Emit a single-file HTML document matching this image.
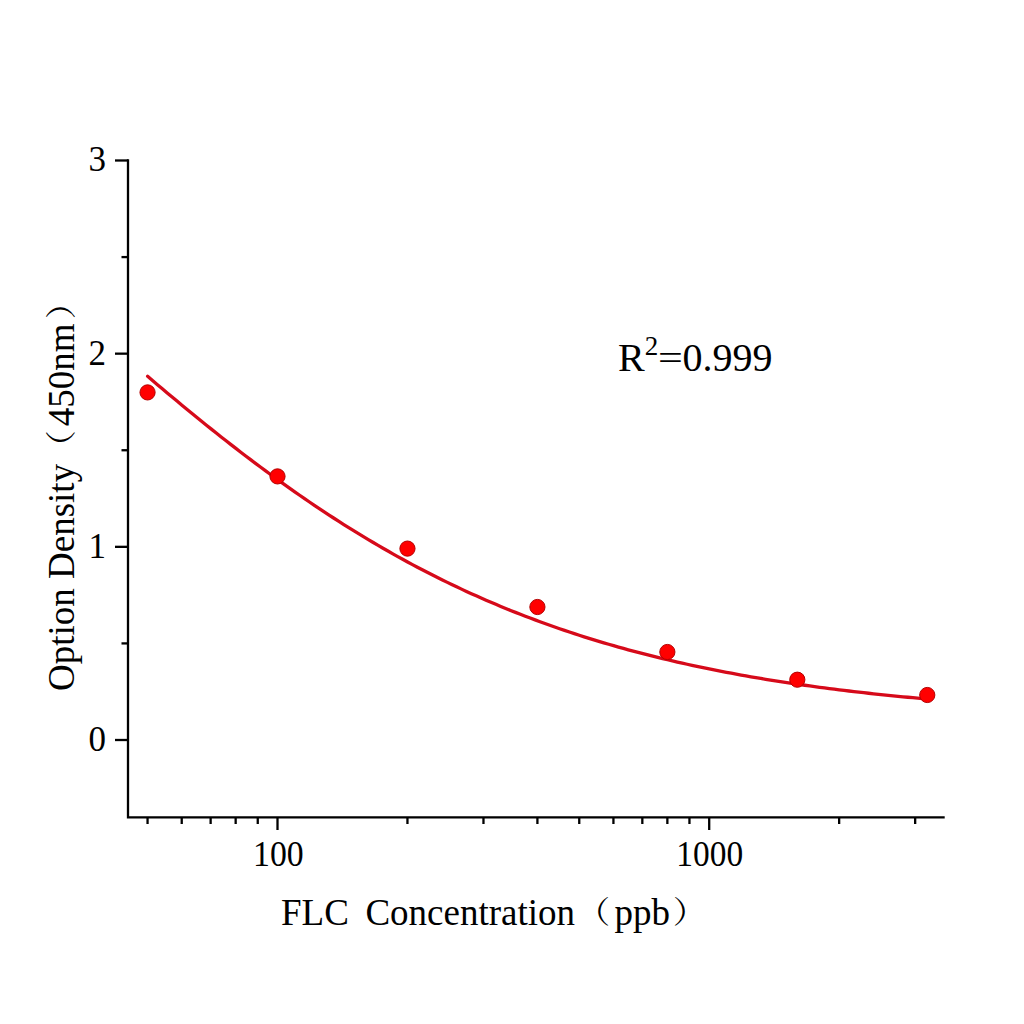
<!DOCTYPE html>
<html><head><meta charset="utf-8"><style>
html,body{margin:0;padding:0;background:#fff;}
svg{display:block;}
text{font-family:"Liberation Serif","Noto Serif CJK SC",serif;fill:#000;}
.cjk{font-family:"NanumMyeongjo","Noto Serif CJK SC",serif;font-size:31.5px;}
</style></head><body>
<svg width="1024" height="1024" viewBox="0 0 1024 1024">
<rect width="1024" height="1024" fill="#fff"/>
<g stroke="#000" stroke-width="2.3" fill="none">
<path d="M128,159.35 V817.4 H944.7" stroke-linejoin="miter" stroke-linecap="butt"/>
<line x1="115" y1="740.00" x2="128" y2="740.00"/>
<line x1="115" y1="546.83" x2="128" y2="546.83"/>
<line x1="115" y1="353.66" x2="128" y2="353.66"/>
<line x1="115" y1="160.49" x2="128" y2="160.49"/>
<line x1="121.5" y1="643.41" x2="128" y2="643.41"/>
<line x1="121.5" y1="450.25" x2="128" y2="450.25"/>
<line x1="121.5" y1="257.08" x2="128" y2="257.08"/>
<line x1="277.50" y1="817.4" x2="277.50" y2="830"/>
<line x1="709.20" y1="817.4" x2="709.20" y2="830"/>
<line x1="147.55" y1="817.4" x2="147.55" y2="824"/>
<line x1="181.73" y1="817.4" x2="181.73" y2="824"/>
<line x1="210.63" y1="817.4" x2="210.63" y2="824"/>
<line x1="235.66" y1="817.4" x2="235.66" y2="824"/>
<line x1="257.75" y1="817.4" x2="257.75" y2="824"/>
<line x1="407.45" y1="817.4" x2="407.45" y2="824"/>
<line x1="483.47" y1="817.4" x2="483.47" y2="824"/>
<line x1="537.41" y1="817.4" x2="537.41" y2="824"/>
<line x1="579.25" y1="817.4" x2="579.25" y2="824"/>
<line x1="613.43" y1="817.4" x2="613.43" y2="824"/>
<line x1="642.33" y1="817.4" x2="642.33" y2="824"/>
<line x1="667.36" y1="817.4" x2="667.36" y2="824"/>
<line x1="689.45" y1="817.4" x2="689.45" y2="824"/>
<line x1="839.15" y1="817.4" x2="839.15" y2="824"/>
<line x1="915.17" y1="817.4" x2="915.17" y2="824"/>
</g>
<g font-size="35">
<text x="106" y="750.8" text-anchor="end">0</text>
<text x="106" y="557.6" text-anchor="end">1</text>
<text x="106" y="364.5" text-anchor="end">2</text>
<text x="106" y="171.3" text-anchor="end">3</text>
<text transform="translate(278.4,865.5) scale(0.965,1)" text-anchor="middle">100</text>
<text transform="translate(709.7,865.5) scale(0.955,1)" text-anchor="middle">1000</text>
</g>
<text y="924.7" font-size="37"><tspan x="281">FLC</tspan><tspan x="365.4">Concentration</tspan><tspan x="614.6">ppb</tspan></text>
<text class="cjk" transform="translate(573.5,922.55) scale(1.25,1)">（</text>
<text class="cjk" transform="translate(672.2,922.55) scale(1.25,1)">）</text>
<g transform="translate(74,691) rotate(-90)">
<text x="0" y="0" font-size="37">Option Density</text>
<text class="cjk" transform="translate(224.3,-2.15) scale(1.25,1)">（</text>
<text x="264.8" y="0" font-size="37">450nm</text>
<text class="cjk" transform="translate(371.2,-2.15) scale(1.25,1)">）</text>
</g>
<text y="371.1" font-size="40"><tspan x="618">R</tspan><tspan x="644.7" y="354.5" font-size="27">2</tspan><tspan x="682.4" y="371.1">0.999</tspan></text>
<text transform="translate(658,369.6) scale(1,0.8)" font-size="44">=</text>
<path d="M147.60,376.31 L152.51,380.49 L157.41,384.64 L162.32,388.79 L167.22,392.91 L172.13,397.02 L177.03,401.10 L181.94,405.17 L186.84,409.22 L191.75,413.24 L196.65,417.25 L201.56,421.23 L206.46,425.19 L211.37,429.12 L216.27,433.03 L221.18,436.92 L226.08,440.78 L230.99,444.61 L235.89,448.42 L240.80,452.20 L245.70,455.95 L250.61,459.67 L255.51,463.36 L260.42,467.03 L265.32,470.66 L270.23,474.27 L275.13,477.85 L280.04,481.39 L284.94,484.90 L289.85,488.38 L294.75,491.83 L299.66,495.25 L304.56,498.64 L309.47,501.99 L314.37,505.31 L319.28,508.59 L324.18,511.85 L329.09,515.07 L333.99,518.25 L338.90,521.41 L343.80,524.52 L348.71,527.61 L353.61,530.66 L358.52,533.67 L363.42,536.66 L368.33,539.60 L373.23,542.52 L378.14,545.40 L383.04,548.24 L387.95,551.05 L392.85,553.82 L397.76,556.57 L402.66,559.27 L407.57,561.95 L412.47,564.58 L417.38,567.19 L422.28,569.76 L427.19,572.30 L432.09,574.80 L437.00,577.27 L441.90,579.71 L446.81,582.11 L451.71,584.48 L456.62,586.82 L461.52,589.12 L466.43,591.39 L471.33,593.63 L476.24,595.84 L481.14,598.02 L486.05,600.16 L490.95,602.27 L495.86,604.35 L500.76,606.41 L505.67,608.43 L510.57,610.42 L515.48,612.38 L520.38,614.31 L525.29,616.21 L530.19,618.08 L535.10,619.92 L540.00,621.73 L544.91,623.52 L549.81,625.27 L554.72,627.00 L559.62,628.70 L564.53,630.38 L569.43,632.02 L574.34,633.64 L579.24,635.24 L584.15,636.81 L589.05,638.35 L593.96,639.86 L598.86,641.36 L603.77,642.82 L608.67,644.26 L613.58,645.68 L618.48,647.08 L623.39,648.45 L628.29,649.79 L633.20,651.12 L638.10,652.42 L643.01,653.70 L647.91,654.95 L652.82,656.19 L657.72,657.40 L662.63,658.60 L667.53,659.77 L672.44,660.92 L677.34,662.05 L682.25,663.16 L687.15,664.25 L692.06,665.32 L696.96,666.38 L701.87,667.41 L706.77,668.42 L711.68,669.42 L716.58,670.40 L721.49,671.36 L726.39,672.31 L731.30,673.23 L736.20,674.14 L741.11,675.04 L746.01,675.91 L750.92,676.77 L755.82,677.62 L760.73,678.45 L765.63,679.26 L770.54,680.06 L775.44,680.85 L780.35,681.62 L785.25,682.37 L790.16,683.11 L795.06,683.84 L799.97,684.55 L804.87,685.25 L809.78,685.94 L814.68,686.62 L819.59,687.28 L824.49,687.93 L829.40,688.56 L834.30,689.19 L839.21,689.80 L844.11,690.40 L849.02,690.99 L853.92,691.57 L858.83,692.14 L863.73,692.69 L868.64,693.24 L873.54,693.78 L878.45,694.30 L883.35,694.82 L888.26,695.32 L893.16,695.82 L898.07,696.30 L902.97,696.78 L907.88,697.25 L912.78,697.70 L917.69,698.15 L922.59,698.59 L927.50,699.03" fill="none" stroke="#d60a1a" stroke-width="3.3" stroke-linecap="round" stroke-linejoin="round"/>
<g fill="#ff0000" stroke="#b40000" stroke-width="1">
<circle cx="147.55" cy="392.4" r="7.6"/>
<circle cx="277.50" cy="476.4" r="7.6"/>
<circle cx="407.45" cy="548.6" r="7.6"/>
<circle cx="537.41" cy="607.0" r="7.6"/>
<circle cx="667.36" cy="652.0" r="7.6"/>
<circle cx="797.32" cy="679.7" r="7.6"/>
<circle cx="927.27" cy="695.0" r="7.6"/>
</g>
</svg>
</body></html>
